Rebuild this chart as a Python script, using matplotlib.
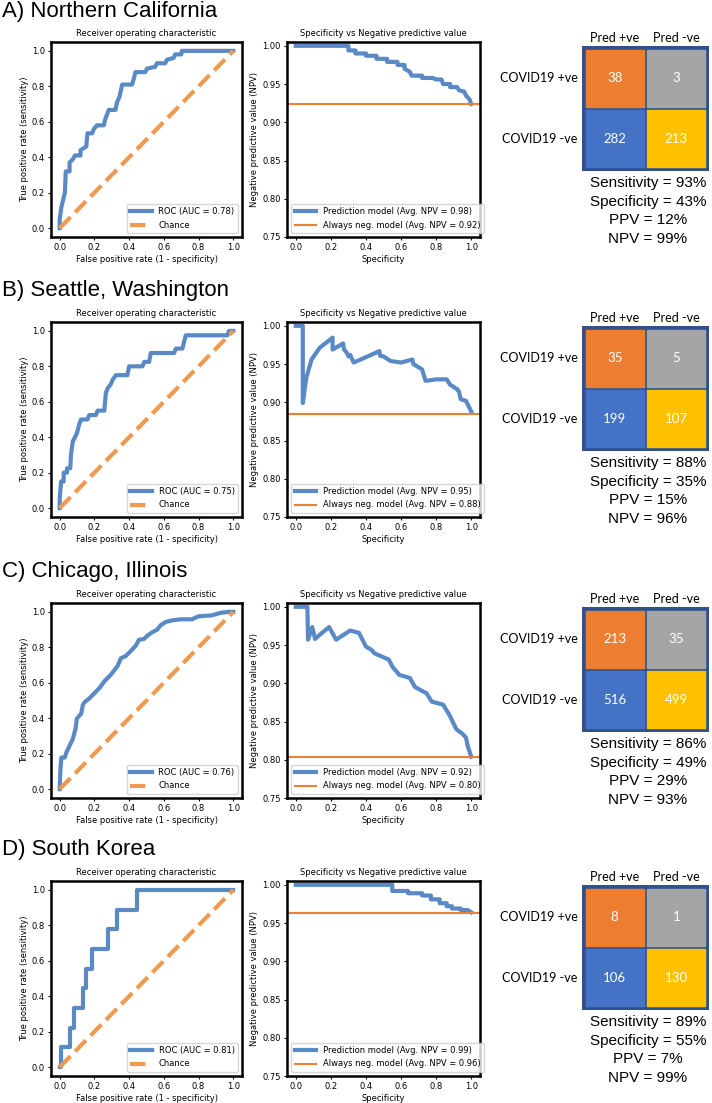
import matplotlib.pyplot as plt
from matplotlib.patches import Rectangle

W, H = 712, 1103

regions = ['A) Northern California', 'B) Seattle, Washington',
           'C) Chicago, Illinois', 'D) South Korea']

# ROC curves
roc_fpr_a = [0, 0, 0.01, 0.03, 0.035, 0.057, 0.057, 0.077, 0.088, 0.12, 0.12, 0.153, 0.16, 0.187,
             0.197, 0.216, 0.254, 0.264, 0.283, 0.321, 0.33, 0.344, 0.36, 0.417, 0.426, 0.436,
             0.493, 0.503, 0.55, 0.56, 0.608, 0.618, 0.656, 0.665, 0.70, 0.704, 1.0]
roc_tpr_a = [0, 0.05, 0.12, 0.2, 0.32, 0.32, 0.37, 0.39, 0.41, 0.41, 0.44, 0.46, 0.535, 0.535,
             0.56, 0.58, 0.58, 0.62, 0.667, 0.667, 0.71, 0.74, 0.81, 0.81, 0.84, 0.88,
             0.88, 0.90, 0.91, 0.93, 0.93, 0.95, 0.96, 0.98, 0.98, 1.0, 1.0]

roc_fpr_b = [0, 0, 0.008, 0.023, 0.023, 0.042, 0.042, 0.061, 0.065, 0.075, 0.088, 0.10, 0.113,
             0.123, 0.16, 0.17, 0.209, 0.218, 0.257, 0.266, 0.276, 0.295, 0.305, 0.324, 0.39,
             0.40, 0.477, 0.487, 0.515, 0.525, 0.659, 0.669, 0.707, 0.713, 0.726, 0.803, 0.966,
             0.975, 1.0]
roc_tpr_b = [0, 0.05, 0.15, 0.15, 0.2, 0.2, 0.225, 0.225, 0.3, 0.375, 0.4, 0.425, 0.475,
             0.5, 0.5, 0.525, 0.525, 0.55, 0.55, 0.65, 0.675, 0.7, 0.725, 0.75, 0.75,
             0.8, 0.8, 0.825, 0.825, 0.875, 0.875, 0.9, 0.9, 0.925, 0.975, 0.975, 0.975,
             1.0, 1.0]

roc_fpr_c = [0, 0.004, 0.01, 0.029, 0.038, 0.057, 0.076, 0.091, 0.099, 0.124, 0.133, 0.143,
             0.171, 0.2, 0.229, 0.257, 0.295, 0.333, 0.352, 0.381, 0.41, 0.438, 0.457, 0.486,
             0.505, 0.533, 0.562, 0.581, 0.61, 0.648, 0.695, 0.762, 0.80, 0.876, 0.924, 0.971, 1.0]
roc_tpr_c = [0, 0.11, 0.178, 0.178, 0.206, 0.245, 0.283, 0.34, 0.398, 0.426, 0.474, 0.49,
             0.512, 0.541, 0.57, 0.608, 0.646, 0.694, 0.738, 0.751, 0.78, 0.809, 0.843, 0.847,
             0.866, 0.885, 0.90, 0.924, 0.943, 0.952, 0.958, 0.958, 0.975, 0.98, 0.994, 1.0, 1.0]

roc_fpr_d = [0, 0.005, 0.005, 0.061, 0.061, 0.084, 0.084, 0.132, 0.132, 0.151, 0.151, 0.189,
             0.189, 0.279, 0.279, 0.332, 0.332, 0.443, 0.443, 1.0]
roc_tpr_d = [0, 0, 0.111, 0.111, 0.222, 0.222, 0.333, 0.333, 0.444, 0.444, 0.556, 0.556,
             0.667, 0.667, 0.778, 0.778, 0.889, 0.889, 1.0, 1.0]

# specificity vs NPV curves
npv_x_a = [0.0, 0.30, 0.30, 0.34, 0.34, 0.40, 0.40, 0.46, 0.46, 0.52, 0.52, 0.58, 0.58, 0.62,
           0.62, 0.65, 0.66, 0.72, 0.72, 0.78, 0.80, 0.83, 0.84, 0.88, 0.88, 0.92, 0.93, 0.96,
           0.97, 0.99, 1.0]
npv_y_a = [1.0, 1.0, 0.994, 0.994, 0.990, 0.990, 0.987, 0.987, 0.983, 0.983, 0.979, 0.979,
           0.975, 0.975, 0.970, 0.966, 0.961, 0.961, 0.958, 0.958, 0.956, 0.956, 0.950, 0.950,
           0.946, 0.946, 0.942, 0.940, 0.935, 0.930, 0.924]

npv_x_b = [0.0, 0.04, 0.04, 0.06, 0.09, 0.137, 0.185, 0.21, 0.21, 0.27, 0.275, 0.29, 0.30,
           0.31, 0.33, 0.40, 0.477, 0.48, 0.50, 0.52, 0.54, 0.60, 0.665, 0.67, 0.72, 0.74,
           0.80, 0.86, 0.88, 0.92, 0.93, 0.94, 0.97, 0.985, 1.0]
npv_y_b = [1.0, 1.0, 0.899, 0.932, 0.956, 0.9715, 0.980, 0.9846, 0.969, 0.977, 0.969, 0.965,
           0.960, 0.962, 0.952, 0.959, 0.967, 0.961, 0.960, 0.957, 0.954, 0.952, 0.956, 0.950,
           0.943, 0.928, 0.930, 0.930, 0.923, 0.917, 0.914, 0.904, 0.902, 0.895, 0.888]

npv_x_c = [0.0, 0.066, 0.07, 0.094, 0.11, 0.15, 0.19, 0.23, 0.27, 0.31, 0.36, 0.40, 0.43,
           0.45, 0.50, 0.53, 0.55, 0.59, 0.65, 0.68, 0.745, 0.775, 0.84, 0.877, 0.915, 0.95,
           0.97, 0.98, 1.0]
npv_y_c = [1.0, 1.0, 0.957, 0.9735, 0.958, 0.966, 0.9735, 0.957, 0.963, 0.969, 0.966, 0.948,
           0.944, 0.939, 0.934, 0.931, 0.922, 0.911, 0.907, 0.895, 0.887, 0.876, 0.872, 0.858,
           0.840, 0.834, 0.829, 0.818, 0.804]

npv_x_d = [0.0, 0.55, 0.55, 0.64, 0.64, 0.72, 0.72, 0.77, 0.77, 0.82, 0.82, 0.86, 0.86, 0.89,
           0.89, 0.94, 0.94, 0.98, 1.0]
npv_y_d = [1.0, 1.0, 0.992, 0.992, 0.989, 0.989, 0.986, 0.986, 0.981, 0.981, 0.976, 0.976,
           0.972, 0.972, 0.969, 0.969, 0.967, 0.967, 0.964]

auc = [0.78, 0.75, 0.76, 0.81]
npv_avg = [0.98, 0.95, 0.92, 0.99]

# confusion matrices: rows = COVID19 +ve / -ve, cols = Pred +ve / -ve
conf_a = [[38, 3], [282, 213]]
conf_b = [[35, 5], [199, 107]]
conf_c = [[213, 35], [516, 499]]
conf_d = [[8, 1], [106, 130]]

roc_fpr = [roc_fpr_a, roc_fpr_b, roc_fpr_c, roc_fpr_d]
roc_tpr = [roc_tpr_a, roc_tpr_b, roc_tpr_c, roc_tpr_d]
npv_x = [npv_x_a, npv_x_b, npv_x_c, npv_x_d]
npv_y = [npv_y_a, npv_y_b, npv_y_c, npv_y_d]
confs = [conf_a, conf_b, conf_c, conf_d]

blue = '#5A8AC6'
orange_light = '#F09A50'
orange = '#EE8030'
cell_colors = [['#ED7D31', '#A5A5A5'], ['#4472C4', '#FFC000']]
frame = '#2F528F'

tops = [42, 322, 603, 881]
fs = 6


def box(x0, y0, w, h):
    return [x0 / W, 1 - (y0 + h) / H, w / W, h / H]


def style(ax):
    for s in ax.spines.values():
        s.set_linewidth(1.8)
    ax.tick_params(labelsize=fs, length=2.5, width=0.8, pad=2)


fig = plt.figure(figsize=(W / 100, H / 100), dpi=100)

for i in range(4):
    top = tops[i]
    fig.text(2 / W, 1 - (top - 31) / H, regions[i], fontsize=16, family='Liberation Sans',
             ha='left', va='center')

    # ROC
    ax1 = fig.add_axes(box(51, top, 191, 195))
    ax1.plot(roc_fpr[i], roc_tpr[i], color=blue, lw=3, label=f'ROC (AUC = {auc[i]:.2f})')
    ax1.plot([0, 1], [0, 1], '--', color=orange_light, lw=3, label='Chance')
    ax1.set_xticks([0, 0.2, 0.4, 0.6, 0.8, 1.0])
    ax1.set_yticks([0, 0.2, 0.4, 0.6, 0.8, 1.0])
    ax1.set_title('Receiver operating characteristic', fontsize=fs, pad=4)
    ax1.set_xlabel('False positive rate (1 - specificity)', fontsize=fs, labelpad=2)
    ax1.set_ylabel('True positive rate (sensitivity)', fontsize=fs, labelpad=2)
    ax1.legend(loc='lower right', fontsize=fs, handlelength=2.6, labelspacing=0.5)
    style(ax1)

    # specificity vs NPV
    cm = confs[i]
    base = (cm[1][0] + cm[1][1]) / (cm[0][0] + cm[0][1] + cm[1][0] + cm[1][1])
    ax2 = fig.add_axes(box(287, top, 193, 195))
    ax2.plot(npv_x[i], npv_y[i], color=blue, lw=3,
             label=f'Prediction model (Avg. NPV = {npv_avg[i]:.2f})')
    ax2.axhline(base, color=orange, lw=1.5, label=f'Always neg. model (Avg. NPV = {base:.2f})')
    ax2.set_xlim(-0.05, 1.05)
    ax2.set_ylim(0.75, 1.005)
    ax2.set_xticks([0, 0.2, 0.4, 0.6, 0.8, 1.0])
    ax2.set_yticks([0.75, 0.80, 0.85, 0.90, 0.95, 1.00])
    ax2.set_yticklabels(['0.75', '0.80', '0.85', '0.90', '0.95', '1.00'])
    ax2.set_title('Specificity vs Negative predictive value', fontsize=fs, pad=4)
    ax2.set_xlabel('Specificity', fontsize=fs, labelpad=2)
    ax2.set_ylabel('Negative predictive value (NPV)', fontsize=fs, labelpad=2)
    ax2.legend(loc='lower left', fontsize=fs, handlelength=2.6, labelspacing=0.5)
    style(ax2)

    # confusion matrix
    axm = fig.add_axes(box(582, top + 4, 127, 125))
    axm.set_xlim(-0.03, 2.03)
    axm.set_ylim(2.03, -0.03)
    axm.set_facecolor(frame)
    for s in axm.spines.values():
        s.set_visible(False)
    axm.set_xticks([])
    axm.set_yticks([])
    for r in range(2):
        for c in range(2):
            axm.add_patch(Rectangle((c + 0.03, r + 0.03), 0.94, 0.94, color=cell_colors[r][c]))
            axm.text(c + 0.5, r + 0.5, str(cm[r][c]), color='white', ha='center', va='center',
                     fontsize=9.5, family='Lato')
    for c, lab in enumerate(['Pred +ve', 'Pred -ve']):
        axm.text(c + 0.5, -0.16, lab, ha='center', va='center', fontsize=9, family='Lato')
    for r, lab in enumerate(['COVID19 +ve', 'COVID19 -ve']):
        axm.text(-0.1, r + 0.5, lab, ha='right', va='center', fontsize=9, family='Lato')

    tp, fn, fp, tn = cm[0][0], cm[0][1], cm[1][0], cm[1][1]
    stats = [f'Sensitivity = {100 * tp / (tp + fn):.0f}%',
             f'Specificity = {100 * tn / (tn + fp):.0f}%',
             f'PPV = {100 * tp / (tp + fp):.0f}%',
             f'NPV = {100 * tn / (tn + fn):.0f}%']
    for k, s in enumerate(stats):
        fig.text(648 / W, 1 - (top + 4 + 125 + 12 + k * 18.7) / H, s, fontsize=11,
                 family='Liberation Sans', ha='center', va='center')

fig.savefig('out.png', dpi=100)
